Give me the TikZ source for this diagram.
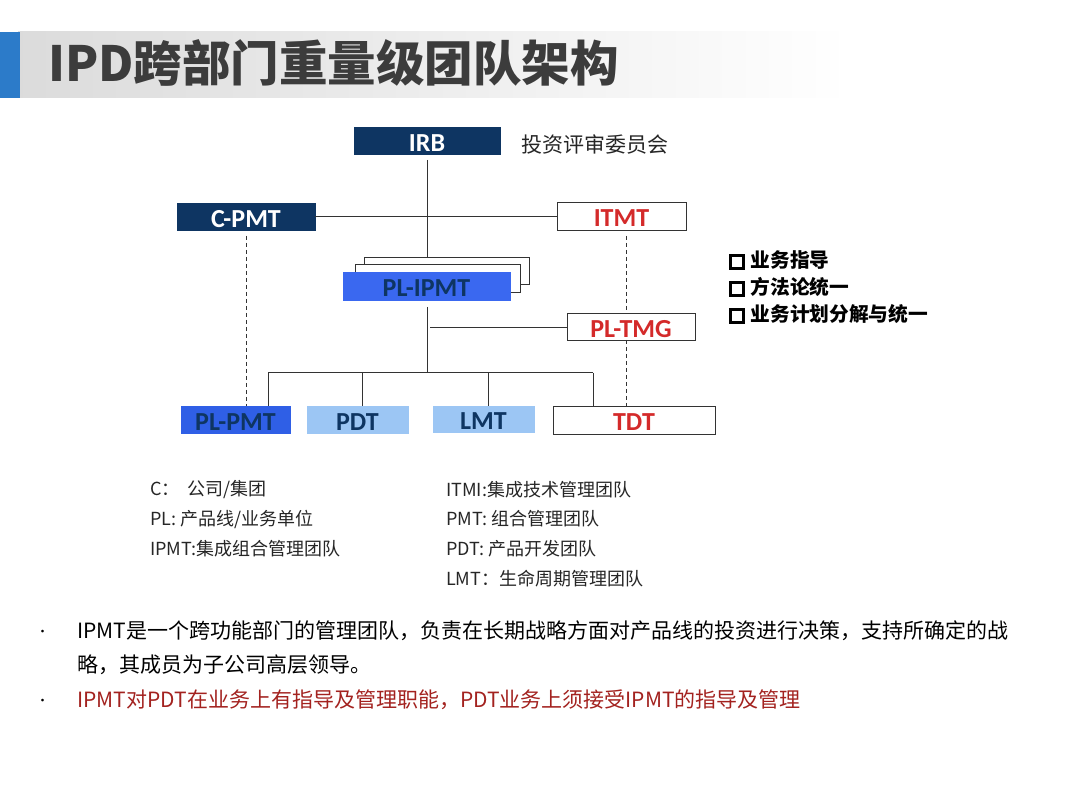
\documentclass[tikz,border=0pt]{standalone}
\usepackage{fontspec}
\setmainfont{Noto Sans CJK SC}
\newfontfamily\boxfont{Carlito}
\usetikzlibrary{calc}
\definecolor{navy}{HTML}{0E3562}
\definecolor{royal}{HTML}{3A68F0}
\definecolor{royalb}{HTML}{2F5FE6}
\definecolor{light}{HTML}{9CC6F4}
\definecolor{redtxt}{HTML}{D42A2A}
\definecolor{darkred}{HTML}{A3221F}
\definecolor{titlegray}{HTML}{3C3C3C}
\definecolor{stripblue}{HTML}{2C7BC9}
\newcommand\sqb{\raisebox{0.0em}{\setlength\fboxrule{2.5pt}\setlength\fboxsep{0pt}\fbox{\rule{0pt}{10.5pt}\hspace{10.5pt}}}}
\tikzset{
  box/.style={draw=black!80, line width=0.9pt, inner sep=0pt, text height=22pt, text depth=0pt, font=\boxfont\fontsize{26}{28}\selectfont\bfseries},
  navybox/.style={box, fill=navy, draw=navy, text=white},
  redbox/.style={box, fill=white, text=redtxt},
  bluebox/.style={box, fill=royal, draw=royal, text=navy},
  lightbox/.style={box, fill=light, draw=light, text=navy},
  conn/.style={line width=1pt, black!80},
  dconn/.style={line width=1pt, black!80, dash pattern=on 4pt off 3pt},
  legend/.style={anchor=west, inner sep=0pt, font=\fontsize{18}{20}\selectfont, text=black!85},
  side/.style={anchor=west, inner sep=0pt, font=\fontsize{19.7}{22}\selectfont\bfseries},
  para/.style={anchor=west, inner sep=0pt, font=\fontsize{21}{24}\selectfont}
}
\begin{document}
\begin{tikzpicture}[x=1pt,y=-1pt]
\useasboundingbox (0,0) rectangle (1080,810);
\fill[white] (0,0) rectangle (1080,810);
% title band
\shade[left color=black!14, right color=white] (18,32) rectangle (850,98);
\fill[stripblue] (0,32) rectangle (20,98);
\node[anchor=west, inner sep=0pt, text=titlegray, font=\fontsize{48.5}{50}\selectfont\bfseries] (title) at (48,63) {IPD跨部门重量级团队架构};
% boxes
\node[navybox, minimum width=146pt, minimum height=27pt] (irb) at (427,140.5) {IRB};
\node[anchor=west, inner sep=0pt, font=\fontsize{21}{22}\selectfont, text=black!85] (irbl) at (521,144) {投资评审委员会};
\node[navybox, minimum width=138pt, minimum height=27pt] (cpmt) at (246,216.5) {C-PMT};
\node[redbox, minimum width=129pt, minimum height=28pt] (itmt) at (621.5,216) {ITMT};
\node[box, fill=white, minimum width=165pt, minimum height=27pt] (back3) at (446.5,270.5) {};
\node[box, fill=white, minimum width=165pt, minimum height=28pt] (back2) at (437.5,278) {};
\node[bluebox, minimum width=167pt, minimum height=28pt] (plipmt) at (426.5,286) {PL-IPMT};
\node[redbox, minimum width=128pt, minimum height=27pt] (pltmg) at (631,326.5) {PL-TMG};
\node[box, fill=royalb, draw=royalb, text=navy, minimum width=109pt, minimum height=27pt] (plpmt) at (235.5,419.5) {PL-PMT};
\node[lightbox, minimum width=101pt, minimum height=27pt] (pdt) at (357.5,419.5) {PDT};
\node[lightbox, minimum width=101pt, minimum height=26pt] (lmt) at (483.5,419) {LMT};
\node[redbox, minimum width=162pt, minimum height=28pt] (tdt) at (634,420) {TDT};
% connectors
\coordinate (irbx) at (427,160);
\draw[conn] (irbx) -- (irbx |- back3.north);
\draw[conn] (cpmt.east) -- (cpmt.east -| itmt.west);
\coordinate (ipx) at (427,307);
\coordinate (bus) at (427,373);
\draw[conn] (ipx) -- (bus);
\draw[conn] (430,328) coordinate (tb) -- (tb -| pltmg.west);
\coordinate (b1) at (268,373);
\coordinate (b2) at (362,373);
\coordinate (b3) at (488,373);
\coordinate (b4) at (593,373);
\draw[conn] (b1) -- (b4);
\draw[conn] (b1) -- (b1 |- plpmt.north);
\draw[conn] (b2) -- (b2 |- pdt.north);
\draw[conn] (b3) -- (b3 |- lmt.north);
\draw[conn] (b4) -- (b4 |- tdt.north);
\coordinate (d1) at (246,236);
\draw[dconn] (d1) -- (d1 |- plpmt.north);
\coordinate (d2) at (626,236);
\draw[dconn] (d2) -- (d2 |- pltmg.north);
\coordinate (d3) at (626,340);
\draw[dconn] (d3) -- (d3 |- tdt.north);
% side list
\node[side] (s1) at (729,260) {\sqb\hspace{6pt}业务指导};
\node[side] (s2) at (729,287) {\sqb\hspace{6pt}方法论统一};
\node[side] (s3) at (729,314) {\sqb\hspace{6pt}业务计划分解与统一};
% legend
\node[legend] (l1) at (150,490) {C：\ \ 公司/集团};
\node[legend] (l2) at (150,519) {PL: 产品线/业务单位};
\node[legend] (l3) at (150,549) {IPMT:集成组合管理团队};
\node[legend] (r1) at (446,490) {ITMI:集成技术管理团队};
\node[legend] (r2) at (446,519) {PMT: 组合管理团队};
\node[legend] (r3) at (446,549) {PDT: 产品开发团队};
\node[legend] (r4) at (446,579) {LMT：生命周期管理团队};
% paragraphs
\node[para, font=\fontsize{13}{16}\selectfont] (bul1) at (36,633) {•};
\node[para] (p1) at (77,631) {IPMT是一个跨功能部门的管理团队，负责在长期战略方面对产品线的投资进行决策，支持所确定的战};
\node[para] (p2) at (77,665) {略，其成员为子公司高层领导。};
\node[para, font=\fontsize{13}{16}\selectfont] (bul2) at (36,702) {•};
\node[para, text=darkred] (p3) at (77,700) {IPMT对PDT在业务上有指导及管理职能，PDT业务上须接受IPMT的指导及管理};
\end{tikzpicture}
\end{document}
